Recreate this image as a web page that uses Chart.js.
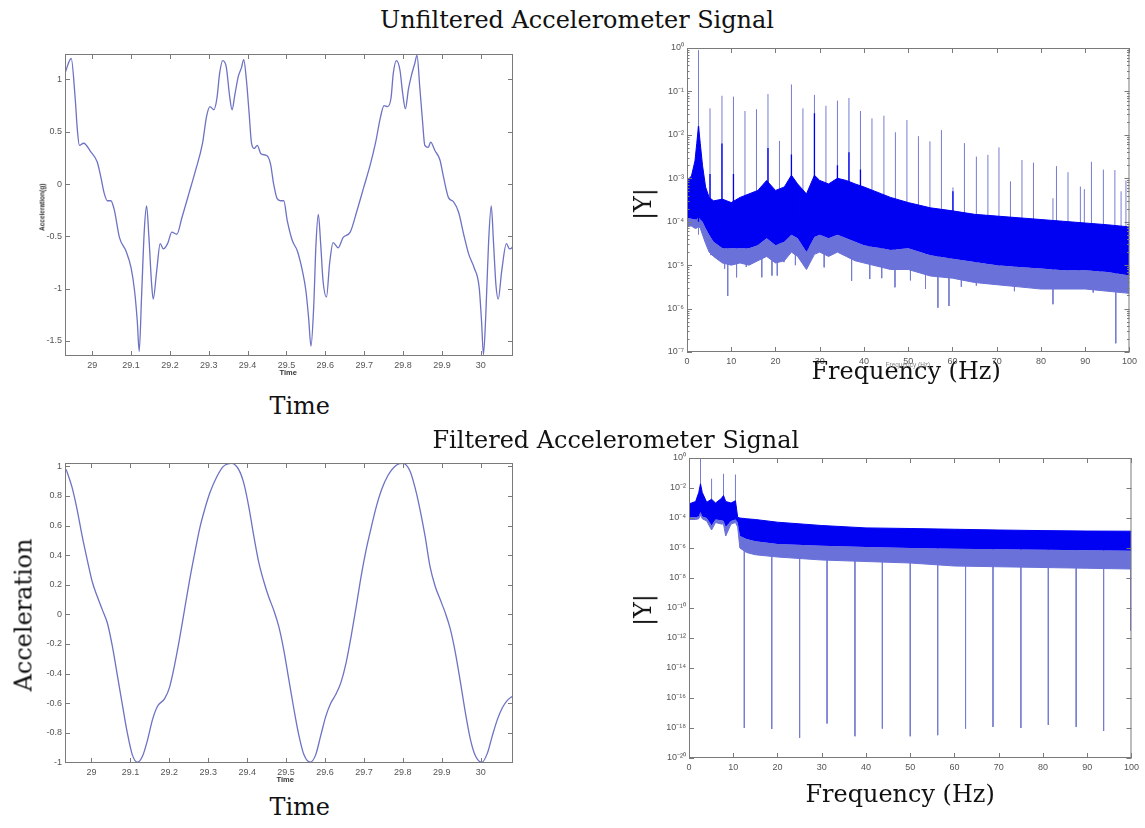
<!DOCTYPE html>
<html><head><meta charset="utf-8">
<script src="https://cdn.jsdelivr.net/npm/chart.js@4.4.1/dist/chart.umd.min.js"></script>
<style>
html,body{margin:0;padding:0;background:#fff;width:1145px;height:828px;overflow:hidden;position:relative}
canvas{position:absolute;z-index:1}
.lbl{position:absolute;white-space:nowrap;color:#111;line-height:1;font-family:"DejaVu Serif",serif;z-index:2}
.sm{position:absolute;white-space:nowrap;font-family:"Liberation Sans",Arial,sans-serif;font-weight:bold;color:#333;line-height:1;z-index:2}
</style></head><body>
<div class="lbl" id="title1" data-cx="577" data-cy="21">Unfiltered Accelerometer Signal</div>
<div class="lbl" data-cx="616" data-cy="441">Filtered Accelerometer Signal</div>
<div class="lbl" data-cx="300" data-cy="407">Time</div>
<div class="lbl" data-cx="906" data-cy="372">Frequency (Hz)</div>
<div class="lbl" data-cx="300" data-cy="808">Time</div>
<div class="lbl" data-cx="900" data-cy="795">Frequency (Hz)</div>
<div class="lbl" data-cx="24" data-cy="615" data-rot="1">Acceleration</div>
<div class="lbl" data-cx="644" data-cy="204" data-rot="1">|Y|</div>
<div class="lbl" data-cx="644" data-cy="610" data-rot="1">|Y|</div>
<div class="sm" data-cx="42" data-cy="207" data-rot="1" style="font-size:6.5px">Acceleration(g)</div>
<div class="sm" data-cx="288" data-cy="373" style="font-size:7.5px">Time</div>
<div class="sm" data-cx="285" data-cy="780" style="font-size:7.5px">Time</div>
<div class="sm" data-cx="908" data-cy="365" style="font-size:6.5px;color:#888;font-weight:normal">Frequency (Hz)</div>
<canvas id="cTL"></canvas><canvas id="cTR"></canvas><canvas id="cBL"></canvas><canvas id="cBR"></canvas>
<script>
// ---------- data ----------
const timeTicks = [29, 29.1, 29.2, 29.3, 29.4, 29.5, 29.6, 29.7, 29.8, 29.9, 30];
const timeTickLabels = ['29','29.1','29.2','29.3','29.4','29.5','29.6','29.7','29.8','29.9','30'];
const freqTicks = [0, 10, 20, 30, 40, 50, 60, 70, 80, 90, 100];
const freqTickLabels = ['0','10','20','30','40','50','60','70','80','90','100'];
const tlYTicks = [-1.5, -1, -0.5, 0, 0.5, 1];
const tlYTickLabels = ['-1.5','-1','-0.5','0','0.5','1'];
const blYTicks = [-1, -0.8, -0.6, -0.4, -0.2, 0, 0.2, 0.4, 0.6, 0.8, 1];
const blYTickLabels = ['-1','-0.8','-0.6','-0.4','-0.2','0','0.2','0.4','0.6','0.8','1'];
const trYTickExp = [0, -1, -2, -3, -4, -5, -6, -7];
const trYTickLabels = ['10\u2070','10\u207B\u00B9','10\u207B\u00B2','10\u207B\u00B3','10\u207B\u2074','10\u207B\u2075','10\u207B\u2076','10\u207B\u2077'];
const brYTickExp = [0, -2, -4, -6, -8, -10, -12, -14, -16, -18, -20];
const brYTickLabels = ['10\u2070','10\u207B\u00B2','10\u207B\u2074','10\u207B\u2076','10\u207B\u2078','10\u207B\u00B9\u2070','10\u207B\u00B9\u00B2','10\u207B\u00B9\u2074','10\u207B\u00B9\u2076','10\u207B\u00B9\u2078','10\u207B\u00B2\u2070'];

// unfiltered time signal (s, g)
const tlTime = [
 28.930,28.946,28.956,28.962,28.967,28.978,28.996,29.013,29.022,29.031,
 29.039,29.048,29.057,29.070,29.087,29.100,29.109,29.116,29.121,29.127,
 29.134,29.140,29.146,29.153,29.157,29.166,29.175,29.183,29.194,29.205,
 29.218,29.231,29.249,29.266,29.284,29.294,29.303,29.313,29.321,29.328,
 29.336,29.345,29.354,29.360,29.367,29.376,29.384,29.390,29.397,29.404,
 29.410,29.417,29.425,29.434,29.450,29.459,29.467,29.476,29.485,29.493,
 29.502,29.515,29.528,29.541,29.550,29.557,29.563,29.570,29.576,29.582,
 29.588,29.594,29.603,29.611,29.620,29.633,29.646,29.664,29.681,29.699,
 29.716,29.729,29.742,29.751,29.760,29.769,29.775,29.783,29.792,29.799,
 29.806,29.814,29.821,29.830,29.836,29.843,29.850,29.856,29.865,29.871,
 29.882,29.895,29.904,29.917,29.930,29.943,29.956,29.969,29.983,29.996,
 30.002,30.007,30.013,30.020,30.027,30.033,30.039,30.045,30.054,30.066,
 30.074,30.080,30.089];
const tlAccel = [
 1.06,1.20,0.83,0.51,0.37,0.39,0.31,0.21,0.07,-0.09,
 -0.16,-0.16,-0.25,-0.51,-0.64,-0.80,-1.02,-1.31,-1.60,-1.08,
 -0.45,-0.21,-0.51,-0.96,-1.10,-0.83,-0.57,-0.62,-0.57,-0.46,
 -0.48,-0.32,-0.09,0.13,0.39,0.64,0.74,0.71,0.82,1.06,
 1.18,1.12,0.83,0.71,0.85,1.03,1.11,1.19,0.99,0.67,
 0.39,0.34,0.37,0.29,0.27,0.19,0.0,-0.14,-0.16,-0.16,
 -0.35,-0.54,-0.64,-0.83,-1.02,-1.28,-1.55,-1.18,-0.57,-0.29,
 -0.57,-0.92,-1.08,-0.76,-0.56,-0.61,-0.51,-0.46,-0.26,-0.03,
 0.19,0.39,0.64,0.75,0.74,0.82,1.06,1.18,1.09,0.87,
 0.72,0.91,1.03,1.15,1.23,0.93,0.61,0.37,0.35,0.40,
 0.32,0.23,0.07,-0.13,-0.17,-0.27,-0.48,-0.67,-0.80,-0.99,
 -1.31,-1.63,-1.25,-0.57,-0.21,-0.57,-0.96,-1.10,-0.83,-0.57,
 -0.62,-0.61,-0.54];

// filtered time signal
const blTime = [
 28.935,28.950,28.963,28.976,28.989,29.002,29.015,29.028,29.041,29.054,
 29.067,29.080,29.092,29.105,29.118,29.131,29.144,29.157,29.170,29.188,
 29.201,29.213,29.226,29.239,29.252,29.265,29.278,29.291,29.304,29.322,
 29.339,29.360,29.378,29.391,29.404,29.417,29.430,29.443,29.455,29.468,
 29.481,29.494,29.507,29.520,29.533,29.546,29.562,29.576,29.589,29.602,
 29.615,29.628,29.641,29.654,29.667,29.680,29.693,29.706,29.719,29.732,
 29.745,29.762,29.784,29.801,29.818,29.831,29.844,29.857,29.870,29.883,
 29.896,29.909,29.922,29.935,29.948,29.961,29.974,29.987,30.003,30.017,
 30.030,30.043,30.056,30.069,30.084];
const blAccel = [
 0.98,0.86,0.71,0.53,0.37,0.22,0.12,0.03,-0.06,-0.22,
 -0.42,-0.62,-0.80,-0.95,-1.0,-0.96,-0.85,-0.71,-0.62,-0.57,
 -0.49,-0.35,-0.17,0.03,0.23,0.41,0.58,0.71,0.82,0.93,
 1.0,1.02,0.98,0.89,0.73,0.53,0.35,0.22,0.12,0.03,
 -0.08,-0.24,-0.44,-0.64,-0.82,-0.95,-1.0,-0.95,-0.82,-0.69,
 -0.60,-0.54,-0.46,-0.33,-0.15,0.05,0.26,0.44,0.59,0.73,
 0.84,0.94,1.01,1.02,0.97,0.86,0.71,0.53,0.32,0.19,
 0.10,0.01,-0.10,-0.26,-0.46,-0.67,-0.85,-0.96,-1.0,-0.94,
 -0.82,-0.71,-0.63,-0.58,-0.55];

// unfiltered spectrum (log10 |Y| as read against the decade ticks)
const trBandFreq = [0,1,1.8,2.2,2.6,3.0,3.5,4.2,5,6,8,10,12,14,16,18,20,22,23.6,25,27,28.8,30,32,34,36,38,40,42,44,46,50,55,60,65,70,75,80,85,90,95,100];
const trBandTopExp = [-3.05,-2.95,-2.6,-2.2,-1.8,-2.2,-2.7,-3.2,-3.44,-3.52,-3.48,-3.56,-3.44,-3.36,-3.28,-3.05,-3.28,-3.2,-2.93,-3.13,-3.36,-2.93,-3.05,-3.13,-3.0,-3.05,-3.13,-3.2,-3.28,-3.36,-3.44,-3.56,-3.68,-3.75,-3.83,-3.87,-3.91,-3.95,-3.99,-4.03,-4.07,-4.12];
const trBandLowExp = [-3.91,-3.93,-3.95,-3.95,-3.9,-3.95,-4.0,-4.15,-4.3,-4.46,-4.61,-4.61,-4.61,-4.61,-4.54,-4.38,-4.54,-4.46,-4.3,-4.38,-4.7,-4.35,-4.3,-4.38,-4.3,-4.38,-4.46,-4.54,-4.58,-4.61,-4.65,-4.61,-4.77,-4.85,-4.93,-5.0,-5.04,-5.08,-5.12,-5.12,-5.16,-5.24];
const trBandFringeExp = [-4.1,-4.1,-4.15,-4.15,-4.1,-4.15,-4.3,-4.5,-4.7,-4.8,-4.95,-5.0,-4.95,-5.0,-4.9,-4.8,-4.95,-4.9,-4.7,-4.8,-5.1,-4.75,-4.7,-4.8,-4.7,-4.8,-4.9,-4.95,-5.0,-5.05,-5.1,-5.1,-5.25,-5.3,-5.4,-5.45,-5.5,-5.55,-5.55,-5.55,-5.6,-5.65];
const trSpikeFreq = [2.6,5.2,7.9,10.5,13.1,15.7,18.3,20.9,23.6,26.2,28.8,31.4,34.0,36.6,39.2,41.8,44.5,47.1,49.7,52.3,54.9,57.5,60.1,62.7,65.4,68.0,70.5,73.1,75.7,78.3,82.7,83.5,86.1,88.9,89.8,91.4,94.1,96.7,98.1,99.2];
const trSpikeExp = [-0.05,-1.39,-1.10,-1.12,-1.45,-1.41,-1.06,-2.14,-0.84,-1.39,-1.08,-1.33,-1.21,-1.15,-1.45,-1.62,-1.56,-1.94,-1.66,-2.03,-2.15,-1.89,-3.21,-2.19,-2.50,-2.46,-2.29,-3.07,-2.58,-2.64,-3.46,-2.72,-2.86,-3.19,-3.25,-2.62,-2.80,-2.81,-3.3,-3.05];
const trCoreFreq = [2.6,5.2,7.9,10.5,18.3,23.6,28.8,34.0,36.6,39.2,60.1];
const trCoreExp = [-1.8,-2.9,-2.2,-2.9,-2.3,-2.45,-1.5,-2.7,-2.4,-2.8,-3.3];
const trDipFreq = [5.4,8.5,9.2,11.2,13.4,16.9,19.2,20.4,21.9,24.5,27.4,31.0,37.2,41.3,44.0,47.0,50.5,53.9,56.7,59.2,62.0,65.4,67.8,70.5,74.0,77.9,82.7,86.0,88.5,91.8,93.4,96.9,98.1];
const trDipExp = [-4.77,-5.08,-5.71,-5.28,-5.04,-5.28,-5.24,-5.24,-4.93,-5.0,-4.95,-5.05,-5.36,-5.32,-5.3,-5.51,-5.35,-5.55,-5.98,-5.94,-5.5,-5.47,-5.39,-5.45,-5.6,-5.51,-5.90,-5.55,-5.45,-5.63,-5.47,-6.80,-5.16];

// filtered spectrum
const brBandFreq = [0,1.5,2.2,2.6,3.0,4,5.1,6,7.3,7.8,8.3,9.5,10.5,11,11.5,13,15,20,30,40,50,60,70,80,90,100];
const brBandTopExp = [-3.06,-2.9,-2.3,-1.72,-2.3,-2.95,-2.75,-3.0,-2.7,-2.5,-2.9,-3.0,-2.85,-3.95,-4.0,-4.05,-4.1,-4.28,-4.5,-4.66,-4.7,-4.75,-4.8,-4.84,-4.87,-4.88];
const brBandLowExp = [-3.95,-3.95,-3.9,-3.6,-3.9,-4.0,-4.5,-4.1,-4.15,-4.2,-4.6,-4.2,-4.1,-4.3,-5.2,-5.4,-5.55,-5.73,-5.85,-5.93,-6.0,-6.05,-6.08,-6.12,-6.15,-6.18];
const brBandFringeExp = [-4.1,-4.1,-4.05,-3.8,-4.05,-4.2,-4.8,-4.3,-4.4,-4.4,-5.2,-4.4,-4.3,-4.6,-6.0,-6.3,-6.45,-6.6,-6.8,-6.9,-7.0,-7.2,-7.25,-7.3,-7.35,-7.4];
const brSpikeFreq = [2.6,5.1,7.8,10.5];
const brSpikeExp = [0.1,-1.38,-1.05,-1.1];
const brDipFreq = [12.5,18.7,25.0,31.2,37.5,43.7,50.0,56.2,62.5,68.7,75.0,81.2,87.5,93.7,99.8];
const brDipExp = [-18.0,-18.06,-18.66,-17.7,-18.55,-18.04,-18.55,-18.48,-18.04,-17.93,-18.0,-17.8,-17.93,-18.2,-11.5];

// ---------- helpers ----------
const pow10 = e => Math.pow(10, e);
const pts = (xs, ys, f) => xs.map((x, i) => ({x, y: f ? f(ys[i]) : ys[i]}));
function spikes(xs, baseExp, tipExp) {
  const out = [];
  xs.forEach((x, i) => { out.push({x, y: pow10(baseExp)}); out.push({x, y: pow10(tipExp[i])}); out.push({x, y: null}); });
  return out;
}
const tickFont = {family: '"Liberation Sans", Arial, sans-serif', size: 9};
const noGrid = {display: false, drawTicks: false, tickLength: 0};
function linAxis(min, max, ticks, labels, isX) {
  return {type: 'linear', min, max,
    afterBuildTicks: s => { s.ticks = ticks.map(v => ({value: v})); },
    ticks: {autoSkip: false, maxRotation: 0, font: tickFont, color: '#555', padding: isX ? 4 : 3,
      callback: v => labels[ticks.findIndex(t => Math.abs(t - v) < 1e-9)]},
    grid: noGrid, border: {display: false},
    afterFit: s => { if (isX) s.height = 28; else s.width = 60; }};
}
function logAxis(minE, maxE, exps, labels) {
  return {type: 'logarithmic', min: pow10(minE), max: pow10(maxE),
    afterBuildTicks: s => { s.ticks = exps.map(e => ({value: pow10(e)})); },
    ticks: {autoSkip: false, font: tickFont, color: '#555', padding: 3,
      callback: v => labels[exps.indexOf(Math.round(Math.log10(v)))]},
    grid: noGrid, border: {display: false},
    afterFit: s => { s.width = 60; }};
}
const boxTicks = {
  id: 'boxTicks',
  afterDatasetsDraw(chart, args, opts) {
    const {ctx, chartArea: a, scales: {x, y}} = chart;
    ctx.save();
    ctx.strokeStyle = '#7a7a7a'; ctx.lineWidth = 1;
    ctx.strokeRect(a.left + 0.5, a.top + 0.5, a.right - a.left - 1, a.bottom - a.top - 1);
    ctx.beginPath();
    x.ticks.forEach(t => { const p = Math.round(x.getPixelForValue(t.value)) + 0.5;
      ctx.moveTo(p, a.bottom); ctx.lineTo(p, a.bottom - 5); ctx.moveTo(p, a.top); ctx.lineTo(p, a.top + 5); });
    y.ticks.forEach(t => { const p = Math.round(y.getPixelForValue(t.value)) + 0.5;
      ctx.moveTo(a.left, p); ctx.lineTo(a.left + 5, p); ctx.moveTo(a.right, p); ctx.lineTo(a.right - 5, p); });
    if (opts && opts.minor) {
      for (let e = opts.minor[0]; e < opts.minor[1]; e++) for (let m = 2; m <= 9; m++) {
        const p = Math.round(y.getPixelForValue(m * pow10(e))) + 0.5;
        ctx.moveTo(a.left, p); ctx.lineTo(a.left + 2.5, p); ctx.moveTo(a.right, p); ctx.lineTo(a.right - 2.5, p);
      }
    }
    ctx.stroke(); ctx.restore();
  }
};
Chart.register(boxTicks);

function make(id, area, xAxis, yAxis, datasets, minor) {
  const c = document.getElementById(id);
  const w = area.r - area.l + 70, h = area.b - area.t + 38;
  c.width = w; c.height = h; c.style.width = w + 'px'; c.style.height = h + 'px';
  c.style.left = (area.l - 60) + 'px'; c.style.top = (area.t - 10) + 'px';
  return new Chart(c, {type: 'line', data: {datasets},
    options: {responsive: false, animation: false, events: [], devicePixelRatio: 1,
      layout: {padding: {top: 10, right: 10, left: 0, bottom: 0}},
      elements: {point: {radius: 0}},
      plugins: {legend: {display: false}, tooltip: {enabled: false}, boxTicks: {minor}},
      scales: {x: xAxis, y: yAxis}}});
}

const sigColor = '#6d72c4', dense = '#0000f2', light = '#6a71d8', spikeCol = '#767dd2';

make('cTL', {l: 65, t: 54, r: 513, b: 356},
  linAxis(28.93, 30.083, timeTicks, timeTickLabels, true),
  linAxis(-1.644, 1.243, tlYTicks, tlYTickLabels, false),
  [{data: pts(tlTime, tlAccel), borderColor: sigColor, borderWidth: 1.3, cubicInterpolationMode: 'monotone', fill: false}]);

make('cBL', {l: 65, t: 463, r: 513, b: 763},
  linAxis(28.932, 30.083, timeTicks, timeTickLabels, true),
  linAxis(-1.005, 1.023, blYTicks, blYTickLabels, false),
  [{data: pts(blTime, blAccel), borderColor: sigColor, borderWidth: 1.3, cubicInterpolationMode: 'monotone', fill: false}]);

make('cTR', {l: 687, t: 48, r: 1131, b: 352},
  linAxis(0, 100, freqTicks, freqTickLabels, true),
  logAxis(-7, 0, trYTickExp, trYTickLabels),
  [
    {data: pts(trBandFreq, trBandTopExp, pow10), borderColor: dense, borderWidth: 1, fill: '+1', backgroundColor: dense, order: 1},
    {data: pts(trBandFreq, trBandLowExp, pow10), borderColor: 'rgba(0,0,0,0)', borderWidth: 0, fill: '+1', backgroundColor: light, order: 1},
    {data: pts(trBandFreq, trBandFringeExp, pow10), borderColor: light, borderWidth: 1, fill: false, order: 1},
    {data: spikes(trCoreFreq, -4.0, trCoreExp), borderColor: dense, borderWidth: 1.3, fill: false, spanGaps: false, order: 0},
    {data: spikes(trSpikeFreq, -4.3, trSpikeExp), borderColor: spikeCol, borderWidth: 1, fill: false, spanGaps: false, order: 2},
    {data: spikes(trDipFreq, -4.5, trDipExp), borderColor: spikeCol, borderWidth: 1, fill: false, spanGaps: false, order: 2}
  ], [-7, 0]);

make('cBR', {l: 689, t: 458, r: 1133, b: 758},
  linAxis(0, 100, freqTicks, freqTickLabels, true),
  logAxis(-20, 0, brYTickExp, brYTickLabels),
  [
    {data: pts(brBandFreq, brBandTopExp, pow10), borderColor: dense, borderWidth: 1, fill: '+1', backgroundColor: dense, order: 1},
    {data: pts(brBandFreq, brBandLowExp, pow10), borderColor: 'rgba(0,0,0,0)', borderWidth: 0, fill: '+1', backgroundColor: light, order: 1},
    {data: pts(brBandFreq, brBandFringeExp, pow10), borderColor: light, borderWidth: 1, fill: false, order: 1},
    {data: spikes(brSpikeFreq, -3.5, brSpikeExp), borderColor: spikeCol, borderWidth: 1, fill: false, spanGaps: false, order: 2},
    {data: spikes(brDipFreq, -6.0, brDipExp), borderColor: spikeCol, borderWidth: 1, fill: false, spanGaps: false, order: 2}
  ]);

// ---------- place text labels ----------
(function () {
  const t = document.getElementById('title1');
  t.style.fontSize = '20px';
  const fs = 20 * 394 / t.getBoundingClientRect().width;
  document.querySelectorAll('.lbl').forEach(el => { el.style.fontSize = fs + 'px'; });
  document.querySelectorAll('[data-cx]').forEach(el => {
    const w = el.offsetWidth, h = el.offsetHeight;
    el.style.left = (+el.dataset.cx - w / 2) + 'px';
    el.style.top = (+el.dataset.cy - h / 2) + 'px';
    if (el.dataset.rot) el.style.transform = 'rotate(-90deg)';
  });
})();
</script>
</body></html>
